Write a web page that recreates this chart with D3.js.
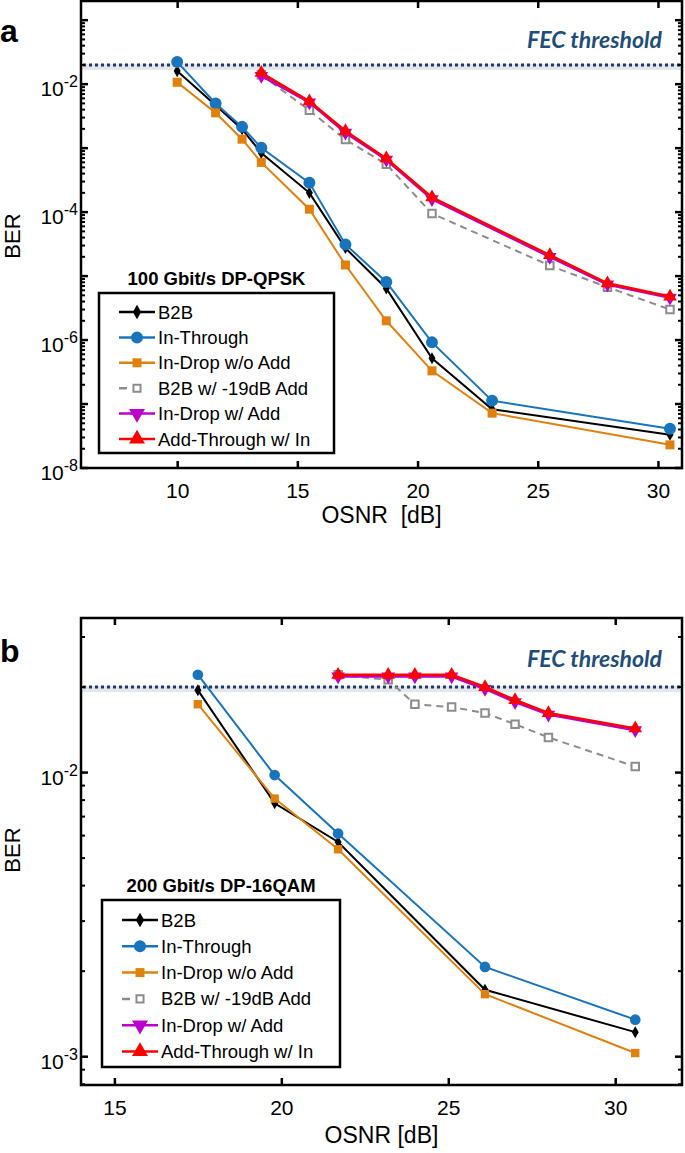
<!DOCTYPE html>
<html>
<head>
<meta charset="utf-8">
<script src="https://cdn.jsdelivr.net/npm/d3@7"></script>
<style>
  body { margin: 0; background: #fff; }
  svg { display: block; font-family: "Liberation Sans", Arial, sans-serif; }
</style>
</head>
<body>
<svg id="chart" width="685" height="1153"></svg>
<script>
// series names (legend order = plot order)
const seriesNames = ['B2B', 'In-Through', 'In-Drop w/o Add', 'B2B w/ -19dB Add', 'In-Drop w/ Add', 'Add-Through w/ In'];
const fecThreshold = 2e-2;

// panel a: 100 Gbit/s DP-QPSK
const osnrA = [10, 11.6, 12.7, 13.5, 15.5, 17, 18.7, 20.6, 23.1, 30.5];
const b2bA = [1.6e-2, 4.7e-3, 1.98e-3, 8.4e-4, 2.0e-4, 2.74e-5, 6.4e-6, 5.2e-7, 8.3e-8, 3.3e-8];
const inThroughA = [2.23e-2, 5.0e-3, 2.15e-3, 1.01e-3, 2.87e-4, 3.13e-5, 8.1e-6, 9.2e-7, 1.13e-7, 4.1e-8];
const inDropNoAddA = [1.07e-2, 3.56e-3, 1.38e-3, 5.98e-4, 1.11e-4, 1.49e-5, 2.0e-6, 3.3e-7, 7.2e-8, 2.3e-8];
const osnrAddA = [13.5, 15.5, 17, 18.7, 20.6, 25.5, 27.9, 30.5];
const b2bAddA = [1.4e-2, 3.9e-3, 1.36e-3, 5.6e-4, 9.5e-5, 1.46e-5, 6.7e-6, 3.0e-6];
const inDropAddA = [1.35e-2, 5.2e-3, 1.75e-3, 6.6e-4, 1.6e-4, 2.0e-5, 7.4e-6, 4.6e-6];
const addThroughA = [1.5e-2, 5.4e-3, 1.85e-3, 6.9e-4, 1.7e-4, 2.13e-5, 7.7e-6, 4.8e-6];
const xTicksA = [10, 15, 20, 25, 30];

// panel b: 200 Gbit/s DP-16QAM
const osnrB = [17.5, 19.8, 21.7, 26.1, 30.6];
const b2bB = [1.95e-2, 7.8e-3, 5.7e-3, 1.72e-3, 1.22e-3];
const inThroughB = [2.21e-2, 9.8e-3, 6.1e-3, 2.07e-3, 1.35e-3];
const inDropNoAddB = [1.74e-2, 8.1e-3, 5.37e-3, 1.66e-3, 1.03e-3];
const osnrAddB = [21.7, 23.2, 24, 25.1, 26.1, 27, 28, 30.6];
const b2bAddB = [2.21e-2, 2.12e-2, 1.74e-2, 1.70e-2, 1.62e-2, 1.48e-2, 1.33e-2, 1.05e-2];
const inDropAddB = [2.18e-2, 2.18e-2, 2.18e-2, 2.18e-2, 1.97e-2, 1.77e-2, 1.6e-2, 1.41e-2];
const addThroughB = [2.21e-2, 2.21e-2, 2.21e-2, 2.21e-2, 2.0e-2, 1.8e-2, 1.62e-2, 1.43e-2];
const xTicksB = [15, 20, 25, 30];

// look of each series
const styles = [
  { color: '#000000', symbol: d3.symbolDiamond, fill: true, dash: null },
  { color: '#1874bd', symbol: d3.symbolCircle, fill: true, dash: null },
  { color: '#e0800e', symbol: d3.symbolSquare, fill: true, dash: null },
  { color: '#8c8c8c', symbol: d3.symbolSquare, fill: false, dash: '7,5' },
  { color: '#bb00cc', symbol: d3.symbolTriangle, fill: true, dash: null, flip: true },
  { color: '#ff0000', symbol: d3.symbolTriangle, fill: true, dash: null }
];

const svg = d3.select('#chart');

function drawPanel(p) {
  const x = d3.scaleLinear().domain(p.xDomain).range([p.left, p.right]);
  const y = d3.scaleLog().domain(p.yDomain).range([p.bottom, p.top]);
  const g = svg.append('g');

  // FEC threshold band + dotted line
  g.append('rect')
    .attr('x', p.left).attr('width', p.right - p.left)
    .attr('y', y(fecThreshold) - 1).attr('height', 6)
    .attr('fill', '#e4e6ea');
  g.append('line')
    .attr('x1', p.left + 2).attr('x2', p.right)
    .attr('y1', y(fecThreshold)).attr('y2', y(fecThreshold))
    .attr('stroke', '#1f3864').attr('stroke-width', 3)
    .attr('stroke-dasharray', '3,3');
  g.append('text')
    .attr('x', 662).attr('y', p.fecLabelY)
    .attr('text-anchor', 'end')
    .style('font-family', 'Lato, "Open Sans", sans-serif')
    .style('font-style', 'italic').style('font-weight', 'bold')
    .style('font-size', '23px')
    .attr('fill', '#1f4e79')
    .text('FEC threshold');

  // series
  const line = d3.line().x(d => x(d[0])).y(d => y(d[1]));
  p.series.forEach((s, i) => {
    const st = styles[i];
    const pts = d3.zip(s.x, s.y);
    g.append('path')
      .attr('d', line(pts))
      .attr('fill', 'none')
      .attr('stroke', st.color)
      .attr('stroke-width', i >= 4 ? p.thick : p.lw)
      .attr('stroke-dasharray', st.dash);
    g.selectAll(null).data(pts).enter().append('path')
      .attr('d', d3.symbol().type(st.symbol).size(p.sizes[i]))
      .attr('transform', d => 'translate(' + x(d[0]) + ',' + y(d[1]) + ')' + (st.flip ? ' rotate(180)' : ''))
      .attr('fill', st.fill ? st.color : '#fff')
      .attr('stroke', st.fill ? 'none' : st.color)
      .attr('stroke-width', 2);
  });

  // frame
  g.append('rect')
    .attr('x', p.left).attr('y', p.top)
    .attr('width', p.right - p.left).attr('height', p.bottom - p.top)
    .attr('fill', 'none').attr('stroke', '#000').attr('stroke-width', 2.5);

  // x ticks (inward, bottom + top)
  g.append('g')
    .attr('transform', 'translate(0,' + p.bottom + ')')
    .call(d3.axisBottom(x).tickValues(p.xTicks).tickSize(-7).tickSizeOuter(0).tickPadding(15))
    .call(a => a.select('.domain').remove())
    .call(a => a.selectAll('line').attr('stroke-width', 2.5))
    .call(a => a.selectAll('text').style('font-size', '21px').style('font-family', '"Liberation Sans", Arial, sans-serif').attr('fill', '#000'));
  g.append('g')
    .attr('transform', 'translate(0,' + p.top + ')')
    .call(d3.axisTop(x).tickValues(p.xTicks).tickSize(-7).tickSizeOuter(0).tickFormat(''))
    .call(a => a.select('.domain').remove())
    .call(a => a.selectAll('line').attr('stroke-width', 2.5));

  // y ticks: majors and minors on both sides
  const [lo, hi] = p.yDomain;
  const ticks = [];
  for (let e = Math.floor(Math.log10(lo)); e <= Math.ceil(Math.log10(hi)); e++) {
    for (let k = 1; k <= 9; k++) {
      const v = k * Math.pow(10, e);
      if (v >= lo && v <= hi) ticks.push({ v: v, major: k === 1, e: e });
    }
  }
  ticks.forEach(t => {
    const len = t.major ? 7 : 4;
    [[p.left, 1], [p.right, -1]].forEach(([x0, dir]) => {
      g.append('line')
        .attr('x1', x0).attr('x2', x0 + dir * len)
        .attr('y1', y(t.v)).attr('y2', y(t.v))
        .attr('stroke', '#000').attr('stroke-width', t.major ? 2.5 : 2);
    });
    if (t.major && p.yLabels.includes(t.e)) {
      const lab = g.append('text')
        .attr('x', p.left - 3).attr('y', y(t.v) + 12)
        .attr('text-anchor', 'end')
        .style('font-size', '21px');
      lab.append('tspan').text('10');
      lab.append('tspan').attr('dy', -9).style('font-size', '16px').text(String(t.e));
    }
  });

  // axis titles
  g.append('text')
    .attr('x', (p.left + p.right) / 2).attr('y', p.xTitleY)
    .attr('text-anchor', 'middle').style('font-size', '23px')
    .style('white-space', 'pre')
    .text(p.xTitle);
  g.append('text')
    .attr('transform', 'translate(20,' + p.yTitleY + ') rotate(-90)')
    .attr('text-anchor', 'middle').style('font-size', '22px')
    .text('BER');

  // panel letter
  g.append('text')
    .attr('x', 0).attr('y', p.letterY)
    .style('font-size', '32px').style('font-weight', 'bold')
    .text(p.letter);

  // legend
  const lg = g.append('g');
  lg.append('text')
    .attr('x', (p.legend.x0 + p.legend.x1) / 2).attr('y', p.legend.y0 - 8)
    .attr('text-anchor', 'middle')
    .style('font-size', '18.5px').style('font-weight', 'bold')
    .text(p.title);
  lg.append('rect')
    .attr('x', p.legend.x0).attr('y', p.legend.y0)
    .attr('width', p.legend.x1 - p.legend.x0).attr('height', p.legend.y1 - p.legend.y0)
    .attr('fill', '#fff').attr('stroke', '#000').attr('stroke-width', 2.5);
  seriesNames.forEach((name, i) => {
    const st = styles[i];
    const cy = p.legend.row0 + i * p.legend.step;
    const sx = p.legend.x0 + 20;
    lg.append('line')
      .attr('x1', sx).attr('x2', st.dash ? sx + 27 : sx + 36)
      .attr('y1', cy).attr('y2', cy)
      .attr('stroke', st.color).attr('stroke-width', 2.5)
      .attr('stroke-dasharray', st.dash ? '8,6' : null);
    lg.append('path')
      .attr('d', d3.symbol().type(st.symbol).size(p.legendSizes[i]))
      .attr('transform', 'translate(' + (sx + 18) + ',' + cy + ')' + (st.flip ? ' rotate(180)' : ''))
      .attr('fill', st.fill ? st.color : '#fff')
      .attr('stroke', st.fill ? 'none' : st.color)
      .attr('stroke-width', 2);
    lg.append('text')
      .attr('x', sx + 39).attr('y', cy + 6.5)
      .style('font-size', '18.5px')
      .text(name);
  });
}

drawPanel({
  letter: 'a', letterY: 42,
  title: '100 Gbit/s DP-QPSK',
  left: 81, right: 682, top: 1, bottom: 468,
  xDomain: [6, 31], yDomain: [1e-8, Math.pow(10, -0.7)],
  xTicks: xTicksA, yLabels: [-8, -6, -4, -2],
  xTitle: 'OSNR  [dB]', xTitleY: 523, yTitleY: 236,
  fecLabelY: 48,
  lw: 2, thick: 2.6,
  sizes: [42, 113, 81, 56, 80, 80],
  legendSizes: [60, 113, 81, 50, 110, 110],
  legend: { x0: 99, x1: 334, y0: 293, y1: 453, row0: 312, step: 25.4 },
  series: [
    { x: osnrA, y: b2bA },
    { x: osnrA, y: inThroughA },
    { x: osnrA, y: inDropNoAddA },
    { x: osnrAddA, y: b2bAddA },
    { x: osnrAddA, y: inDropAddA },
    { x: osnrAddA, y: addThroughA }
  ]
});

drawPanel({
  letter: 'b', letterY: 662,
  title: '200 Gbit/s DP-16QAM',
  left: 81, right: 682, top: 618, bottom: 1085,
  xDomain: [14, 32], yDomain: [7.95e-4, 3.5e-2],
  xTicks: xTicksB, yLabels: [-3, -2],
  xTitle: 'OSNR [dB]', xTitleY: 1143, yTitleY: 850,
  fecLabelY: 667,
  lw: 2, thick: 2.6,
  sizes: [42, 90, 70, 56, 80, 80],
  legendSizes: [60, 113, 81, 50, 110, 110],
  legend: { x0: 102, x1: 340, y0: 900, y1: 1067, row0: 920, step: 26.3 },
  series: [
    { x: osnrB, y: b2bB },
    { x: osnrB, y: inThroughB },
    { x: osnrB, y: inDropNoAddB },
    { x: osnrAddB, y: b2bAddB },
    { x: osnrAddB, y: inDropAddB },
    { x: osnrAddB, y: addThroughB }
  ]
});
</script>
</body>
</html>
